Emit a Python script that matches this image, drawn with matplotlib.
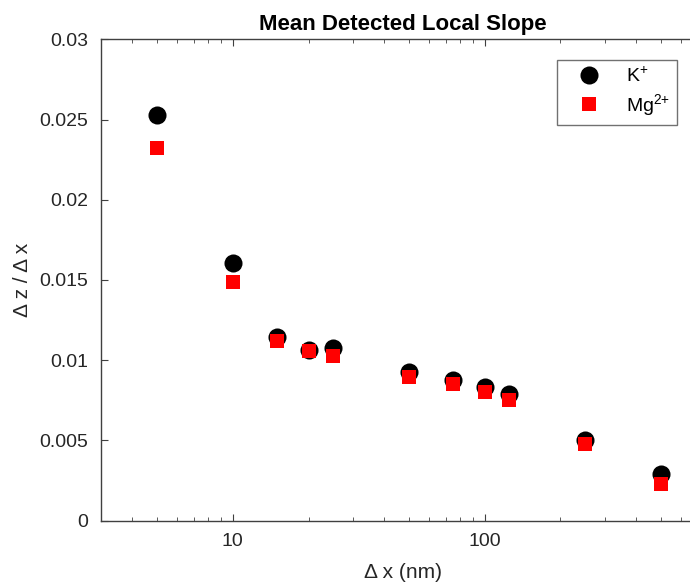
import matplotlib
matplotlib.use("Agg")
import matplotlib.pyplot as plt
from matplotlib.ticker import LogLocator, FixedLocator, NullFormatter

plt.rcParams["font.family"] = ["Liberation Sans", "DejaVu Sans"]
plt.rcParams["mathtext.fontset"] = "custom"
plt.rcParams["mathtext.rm"] = "Liberation Sans"
plt.rcParams["mathtext.it"] = "Liberation Sans"

# step size (nm) and mean slope per ion
dx = [5, 10, 15, 20, 25, 50, 75, 100, 125, 250, 500]
slope_k = [0.02525, 0.01604, 0.01146, 0.0106, 0.01076, 0.00924,
           0.00879, 0.00831, 0.00786, 0.0050, 0.00289]
slope_mg = [0.02322, 0.01488, 0.01121, 0.01055, 0.01028, 0.00893,
            0.00848, 0.0080, 0.00753, 0.00475, 0.00225]

y_ticks = [0, 0.005, 0.01, 0.015, 0.02, 0.025, 0.03]
y_tick_labels = ["0", "0.005", "0.01", "0.015", "0.02", "0.025", "0.03"]

W, H = 690, 586
x_lo, x_hi = 3, 750
fig = plt.figure(figsize=(W / 100, H / 100), dpi=100)
# axes run past the right edge of the canvas
ax = fig.add_axes([101 / W, (H - 520.5) / H, 604 / W, (520.5 - 39.3) / H])

ax.plot(dx, slope_k, "o", color="black", ms=13, mew=0, label="K$^{+}$", zorder=3)
ax.plot(dx, slope_mg, "s", color="red", ms=9.4, mew=0, label="Mg$^{2{+}}$", zorder=4)

ax.set_xscale("log")
ax.set_xlim(x_lo, x_hi)
ax.set_ylim(0, 0.03)
ax.set_xticks([10, 100])
ax.set_xticklabels(["10", "100"])
ax.xaxis.set_minor_locator(LogLocator(base=10, subs=range(2, 10), numticks=20))
ax.xaxis.set_minor_formatter(NullFormatter())
ax.yaxis.set_major_locator(FixedLocator(y_ticks))
ax.set_yticklabels(y_tick_labels)

spine_col = "0.25"
for s in ax.spines.values():
    s.set_color(spine_col)
    s.set_linewidth(1.0)
ax.spines["right"].set_visible(False)
ax.tick_params(which="both", direction="in", top=True, right=False,
               color=spine_col, labelsize=14, labelcolor="0.15")
ax.tick_params(which="major", length=5, width=0.8, pad=9)
ax.tick_params(which="minor", length=3, width=0.6)
ax.tick_params(axis="y", pad=9)

ax.set_title("Mean Detected Local Slope", fontsize=16, fontweight="bold", pad=6.5)
ax.set_xlabel("\u0394 x (nm)", fontsize=15, color="0.15")
ax.set_ylabel("\u0394 z / \u0394 x", fontsize=15, color="0.15")
ax.xaxis.set_label_coords((403 - 101) / 604, -(573 - 520.5) / (520.5 - 39.3))
ax.xaxis.label.set_va("center")
ax.yaxis.set_label_coords(-(101 - 23) / 604, 0.5)
ax.yaxis.label.set_va("center")

leg = ax.legend(loc="upper right", bbox_to_anchor=(677 / W, (H - 60) / H),
                bbox_transform=fig.transFigure, borderaxespad=0, fontsize=14,
                frameon=True, fancybox=False, handletextpad=0.6,
                labelspacing=0.3, borderpad=0.35, handlelength=2.6)
leg.get_frame().set_edgecolor("0.3")
leg.get_frame().set_linewidth(1.0)

fig.savefig("out.png", dpi=100)
